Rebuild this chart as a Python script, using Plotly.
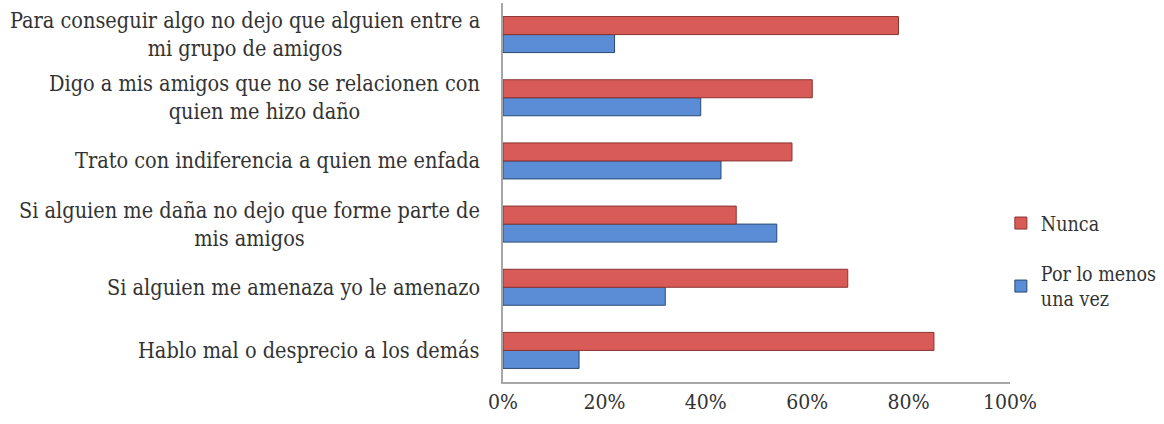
import plotly.graph_objects as go

categories = [
    "Hablo mal o desprecio a los demás",
    "Si alguien me amenaza yo le amenazo",
    "Si alguien me daña no dejo que forme parte de<br>mis amigos",
    "Trato con indiferencia a quien me enfada",
    "Digo a mis amigos que no se relacionen con<br>quien me hizo daño",
    "Para conseguir algo no dejo que alguien entre a<br>mi grupo de amigos",
]
nunca = [0.85, 0.68, 0.46, 0.57, 0.61, 0.78]
por_lo_menos = [0.15, 0.32, 0.54, 0.43, 0.39, 0.22]
x_ticks = [0, 0.2, 0.4, 0.6, 0.8, 1.0]
x_tick_labels = ["0%", "20%", "40%", "60%", "80%", "100%"]

FONT = "DejaVu Serif Condensed, DejaVu Serif"
TXT = "#333333"

fig = go.Figure()
fig.add_trace(go.Bar(
    y=categories, x=por_lo_menos, orientation="h", name="Por lo menos<br>una vez",
    legendgroup="b", legendrank=2,
    marker=dict(color="#5A8DD6", line=dict(color="#2A4A74", width=1)),
))
fig.add_trace(go.Bar(
    y=categories, x=nunca, orientation="h", name="Nunca",
    legendgroup="a", legendrank=1,
    marker=dict(color="#D95B57", line=dict(color="#8A3230", width=1)),
))

for c in categories:
    fig.add_annotation(
        x=-0.041, xref="paper", y=c, yref="y", text=c, showarrow=False,
        xanchor="right", yanchor="middle", align="center",
        font=dict(family=FONT, size=21.5, color=TXT),
    )

fig.update_layout(
    width=1164, height=424,
    margin=dict(l=503, r=154, t=3, b=42, autoexpand=False),
    paper_bgcolor="white", plot_bgcolor="white",
    barmode="group", bargap=0.43, bargroupgap=0,
    font=dict(family=FONT, size=21, color=TXT),
    showlegend=True,
    legend=dict(
        x=0.982, xanchor="left", y=0.47, yanchor="top",
        traceorder="grouped", tracegroupgap=22,
        font=dict(family=FONT, size=19.5, color=TXT),
        bgcolor="rgba(0,0,0,0)",
    ),
    xaxis=dict(
        range=[0, 1.0], tickvals=x_ticks, ticktext=x_tick_labels,
        showgrid=False, zeroline=False, showline=True, linecolor="#A6A6A6",
        linewidth=1.5, ticks="", tickfont=dict(family=FONT, size=21, color=TXT),
    ),
    yaxis=dict(
        categoryorder="array", categoryarray=categories,
        showticklabels=False, showgrid=False, zeroline=False,
        showline=True, linecolor="#A6A6A6", linewidth=1.5, ticks="",
    ),
)

fig.write_html("out.html")
